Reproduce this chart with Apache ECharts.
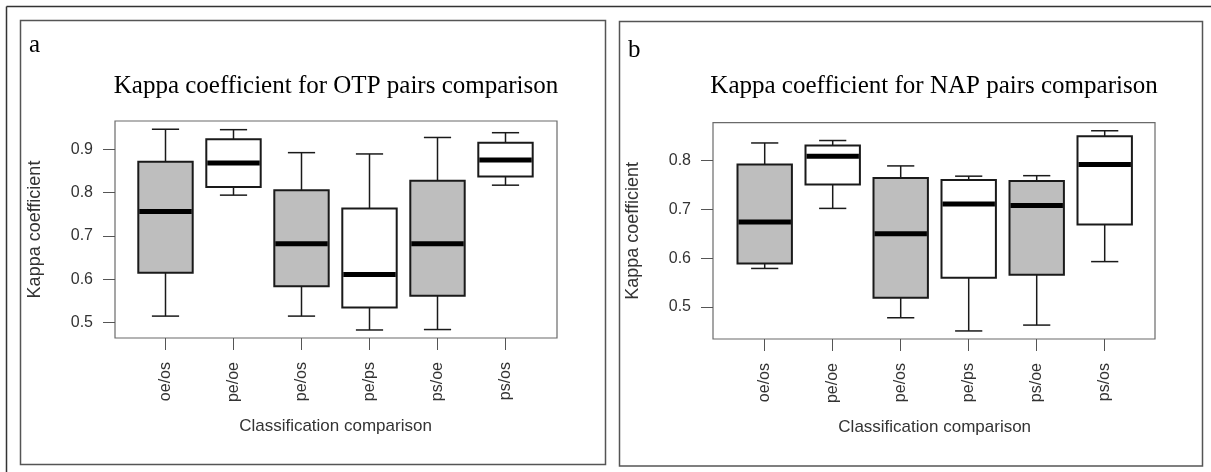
<!DOCTYPE html>
<html>
<head>
<meta charset="utf-8">
<script src="https://cdn.jsdelivr.net/npm/echarts@6/dist/echarts.min.js"></script>
<style>
html,body{margin:0;padding:0;background:#fff;}
#chart{width:1211px;height:472px;}
</style>
</head>
<body>
<div id="chart"></div>
<script>
// ---- data ----
const categories = ['oe/os', 'pe/oe', 'pe/os', 'pe/ps', 'ps/oe', 'ps/os'];

// Panel a: OTP
const otpMin    = [0.515, 0.794, 0.515, 0.483, 0.484, 0.817];
const otpQ1     = [0.615, 0.813, 0.584, 0.535, 0.562, 0.837];
const otpMedian = [0.756, 0.868, 0.682, 0.611, 0.682, 0.875];
const otpQ3     = [0.871, 0.923, 0.805, 0.763, 0.827, 0.915];
const otpMax    = [0.946, 0.945, 0.892, 0.889, 0.927, 0.938];

// Panel b: NAP
const napMin    = [0.579, 0.702, 0.478, 0.451, 0.463, 0.593];
const napQ1     = [0.589, 0.751, 0.519, 0.560, 0.566, 0.669];
const napMedian = [0.674, 0.809, 0.650, 0.711, 0.708, 0.792];
const napQ3     = [0.792, 0.831, 0.764, 0.760, 0.758, 0.850];
const napMax    = [0.836, 0.841, 0.789, 0.768, 0.769, 0.861];

const otpTicks = [0.5, 0.6, 0.7, 0.8, 0.9];
const napTicks = [0.5, 0.6, 0.7, 0.8];

const titleA = 'Kappa coefficient for OTP pairs comparison';
const titleB = 'Kappa coefficient for NAP pairs comparison';
const yTitle = 'Kappa coefficient';
const xTitle = 'Classification comparison';

// ---- build ----
function rows(mn, q1, md, q3, mx) {
  return categories.map((c, i) => [i, mn[i], q1[i], md[i], q3[i], mx[i]]);
}

const SANS = 'Liberation Sans, Arial, sans-serif';
const SERIF = 'Liberation Serif, Times New Roman, serif';
const TXT = '#333';

function renderBox(params, api) {
  const x = api.value(0);
  const lo = api.coord([x, api.value(1)]);
  const q1 = api.coord([x, api.value(2)]);
  const md = api.coord([x, api.value(3)]);
  const q3 = api.coord([x, api.value(4)]);
  const hi = api.coord([x, api.value(5)]);
  const band = api.size([1, 0])[0];
  const bw = band * 0.8;
  const cw = bw / 2;
  const cx = lo[0];
  const fill = params.dataIndex % 2 === 0 ? '#bebebe' : '#ffffff';
  const ls = { stroke: '#1a1a1a', lineWidth: 1.5 };
  return {
    type: 'group',
    children: [
      { type: 'line', shape: { x1: cx, y1: hi[1], x2: cx, y2: q3[1] }, style: ls },
      { type: 'line', shape: { x1: cx, y1: q1[1], x2: cx, y2: lo[1] }, style: ls },
      { type: 'line', shape: { x1: cx - cw / 2, y1: hi[1], x2: cx + cw / 2, y2: hi[1] }, style: ls },
      { type: 'line', shape: { x1: cx - cw / 2, y1: lo[1], x2: cx + cw / 2, y2: lo[1] }, style: ls },
      { type: 'rect', shape: { x: cx - bw / 2, y: q3[1], width: bw, height: q1[1] - q3[1] },
        style: { fill: fill, stroke: '#1a1a1a', lineWidth: 2 } },
      { type: 'line', shape: { x1: cx - bw / 2 + 1, y1: md[1], x2: cx + bw / 2 - 1, y2: md[1] },
        style: { stroke: '#000', lineWidth: 5 } }
    ]
  };
}

// panel geometry
const panels = [
  { frame: { left: 115, top: 121, width: 442, height: 217 },
    box: { left: 131.5, top: 121, width: 408, height: 217 },
    min: 0.4645, max: 0.9650, ticks: otpTicks,
    data: rows(otpMin, otpQ1, otpMedian, otpQ3, otpMax) },
  { frame: { left: 713, top: 122.7, width: 442, height: 216.3 },
    box: { left: 730.7, top: 122.7, width: 408, height: 216.3 },
    min: 0.4345, max: 0.8775, ticks: napTicks,
    data: rows(napMin, napQ1, napMedian, napQ3, napMax) }
];

const grid = [], xAxis = [], yAxis = [], series = [];
panels.forEach((p, k) => {
  const gF = grid.length;
  grid.push(Object.assign({ show: true, borderColor: '#6a6a6a', borderWidth: 1.2, backgroundColor: 'transparent' }, p.frame));
  const gB = grid.length;
  grid.push(Object.assign({ show: false }, p.box));

  // frame grid axes (y axis with labels)
  xAxis.push({ gridIndex: gF, type: 'value', show: false, min: 0, max: 1 });
  yAxis.push({
    gridIndex: gF, type: 'value', min: p.min, max: p.max,
    axisLine: { show: false },
    splitLine: { show: false },
    axisTick: { show: true, length: 12, lineStyle: { color: '#555', width: 1 }, customValues: p.ticks },
    axisLabel: { show: true, margin: 22, fontSize: 16, color: TXT, fontFamily: SANS,
      customValues: p.ticks, formatter: v => v.toFixed(1) },
    name: yTitle, nameLocation: 'middle', nameGap: 71, nameRotate: 90,
    nameTextStyle: { fontSize: 18, color: TXT, fontFamily: SANS }
  });

  // box grid axes
  const xi = xAxis.length;
  xAxis.push({
    gridIndex: gB, type: 'category', data: categories, boundaryGap: true,
    axisLine: { show: false },
    axisTick: { show: true, alignWithLabel: true, length: 12, lineStyle: { color: '#555', width: 1 } },
    axisLabel: { rotate: 90, margin: 24, fontSize: 16, color: TXT, fontFamily: SANS, interval: 0 },
    splitLine: { show: false },
    name: xTitle, nameLocation: 'middle', nameGap: 80,
    nameTextStyle: { fontSize: 17, color: TXT, fontFamily: SANS }
  });
  const yi = yAxis.length;
  yAxis.push({ gridIndex: gB, type: 'value', min: p.min, max: p.max, show: false });

  series.push({
    type: 'custom', xAxisIndex: xi, yAxisIndex: yi,
    renderItem: renderBox,
    encode: { x: 0, y: [1, 2, 3, 4, 5] },
    data: p.data, clip: false, silent: true
  });
});

const graphic = [
  // outer page lines
  { type: 'line', shape: { x1: 6.5, y1: 6.5, x2: 1211, y2: 6.5 }, style: { stroke: '#333', lineWidth: 1.5 } },
  { type: 'line', shape: { x1: 6.5, y1: 6.5, x2: 6.5, y2: 472 }, style: { stroke: '#333', lineWidth: 1.5 } },
  // panel frames
  { type: 'rect', shape: { x: 20.5, y: 20.5, width: 585, height: 444 }, style: { fill: 'none', stroke: '#555', lineWidth: 1.5 } },
  { type: 'rect', shape: { x: 619.5, y: 21.5, width: 583, height: 444.5 }, style: { fill: 'none', stroke: '#555', lineWidth: 1.5 } },
  // panel letters
  { type: 'text', x: 29, y: 58, style: { text: 'a', font: '25px ' + SERIF, fill: '#000', verticalAlign: 'bottom' } },
  { type: 'text', x: 628, y: 63, style: { text: 'b', font: '25px ' + SERIF, fill: '#000', verticalAlign: 'bottom' } },
  // titles
  { type: 'text', x: 336, y: 86, style: { text: titleA, font: '25px ' + SERIF, fill: '#000', align: 'center', verticalAlign: 'middle' } },
  { type: 'text', x: 934, y: 86, style: { text: titleB, font: '25px ' + SERIF, fill: '#000', align: 'center', verticalAlign: 'middle' } }
];

const chart = echarts.init(document.getElementById('chart'), null, { renderer: 'canvas' });
chart.setOption({
  animation: false,
  backgroundColor: '#fff',
  grid: grid, xAxis: xAxis, yAxis: yAxis, series: series,
  graphic: graphic
});
</script>
</body>
</html>
